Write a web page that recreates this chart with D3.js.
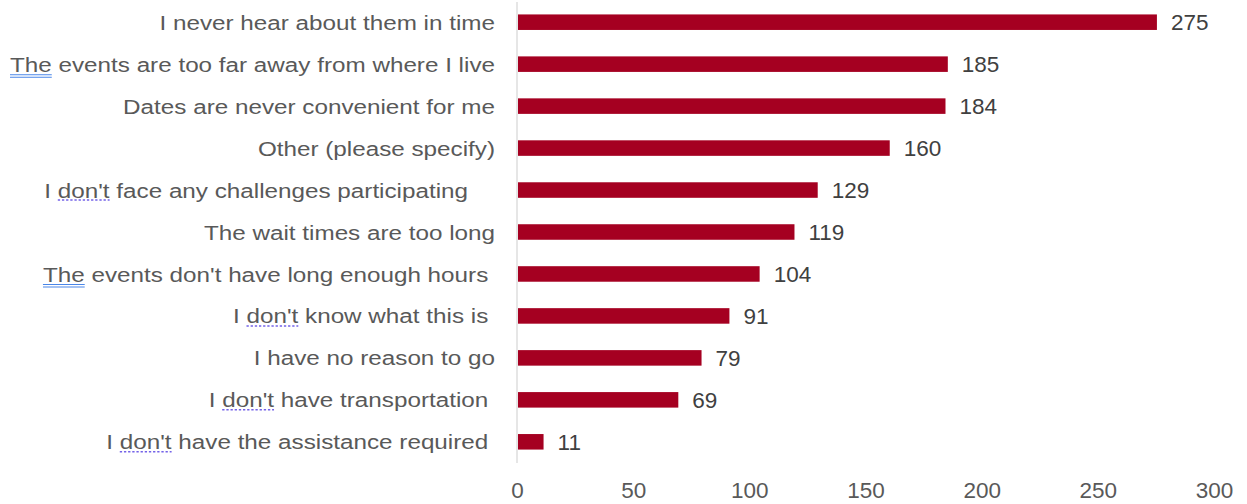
<!DOCTYPE html>
<html>
<head>
<meta charset="utf-8">
<script src="https://cdn.jsdelivr.net/npm/d3@7"></script>
<style>
  html, body { margin: 0; padding: 0; background: #fff; }
  svg text { font-family: "Liberation Sans", Arial, sans-serif; white-space: pre; }
</style>
</head>
<body>
<svg id="chart" width="1247" height="504"></svg>
<script>
// Reasons for not attending, with response counts
const categories = [
  "I never hear about them in time",
  "The events are too far away from where I live",
  "Dates are never convenient for me",
  "Other (please specify)",
  "I don't face any challenges participating    ",
  "The wait times are too long",
  "The events don't have long enough hours ",
  "I don't know what this is ",
  "I have no reason to go",
  "I don't have transportation ",
  "I don't have the assistance required "
];
const counts = [275, 185, 184, 160, 129, 119, 104, 91, 79, 69, 11];
const xTicks = [0, 50, 100, 150, 200, 250, 300];

// Proofing marks carried over from the source document: [row, word, style]
const proofMarks = [
  [1, "The", "grammar"],
  [4, "don't", "spelling"],
  [6, "The", "grammar"],
  [7, "don't", "spelling"],
  [9, "don't", "spelling"],
  [10, "don't", "spelling"]
];

const svg = d3.select("#chart");
const x0 = 517, x1 = 1214;
const labelStretch = 1.155;

const x = d3.scaleLinear().domain([0, 300]).range([x0, x1]);
const y = d3.scaleBand().domain(d3.range(categories.length)).range([1, 463]).paddingInner(0.63).paddingOuter(0.32);
const yMid = i => y(i) + y.bandwidth() / 2;

// vertical category axis line
svg.append("line")
  .attr("x1", x0).attr("x2", x0)
  .attr("y1", 2).attr("y2", 463)
  .attr("stroke", "#d9d9d9").attr("stroke-width", 1.3);

// bars
svg.append("g").selectAll("rect")
  .data(counts)
  .join("rect")
  .attr("x", x(0) + 1)
  .attr("y", (d, i) => y(i))
  .attr("width", d => x(d) - x(0))
  .attr("height", y.bandwidth())
  .attr("fill", "#a50021");

// value labels
svg.append("g").selectAll("text")
  .data(counts)
  .join("text")
  .attr("x", d => x(d) + 15)
  .attr("y", (d, i) => yMid(i))
  .attr("dy", "0.36em")
  .attr("font-size", 22.5)
  .attr("fill", "#404040")
  .text(d => d);

// category labels, each in its own group so the underlines share its scaling
const rows = svg.append("g").selectAll("g")
  .data(categories)
  .join("g")
  .attr("transform", (d, i) => `translate(495,${yMid(i)}) scale(${labelStretch},1)`);

rows.append("text")
  .attr("x", 0)
  .attr("y", 0)
  .attr("dy", "0.36em")
  .attr("text-anchor", "end")
  .attr("font-size", 21)
  .attr("fill", "#595959")
  .text(d => d);

// proofing underlines beneath flagged words
rows.each(function (label, i) {
  const g = d3.select(this);
  const node = g.select("text").node();
  proofMarks.filter(m => m[0] === i).forEach(([row, word, kind]) => {
    const idx = label.indexOf(word);
    const start = node.getStartPositionOfChar(idx).x;
    const end = node.getEndPositionOfChar(idx + word.length - 1).x;
    if (kind === "grammar") {
      [10.5, 13].forEach(off => g.append("line")
        .attr("x1", start).attr("x2", end)
        .attr("y1", off).attr("y2", off)
        .attr("stroke", "#4a86e8").attr("stroke-width", 1));
    } else {
      g.append("line")
        .attr("x1", start).attr("x2", end)
        .attr("y1", 10).attr("y2", 10)
        .attr("stroke", "#7463e8").attr("stroke-width", 1.5)
        .attr("stroke-dasharray", "2,1.6");
    }
  });
});

// value axis
const axis = svg.append("g")
  .attr("transform", "translate(0,490)")
  .call(d3.axisBottom(x).tickValues(xTicks).tickSize(0).tickPadding(0));
axis.select(".domain").remove();
axis.selectAll("text")
  .attr("font-size", 22.5)
  .attr("fill", "#595959")
  .attr("dy", "0.36em")
  .attr("font-family", "Liberation Sans, Arial, sans-serif");
</script>
</body>
</html>
